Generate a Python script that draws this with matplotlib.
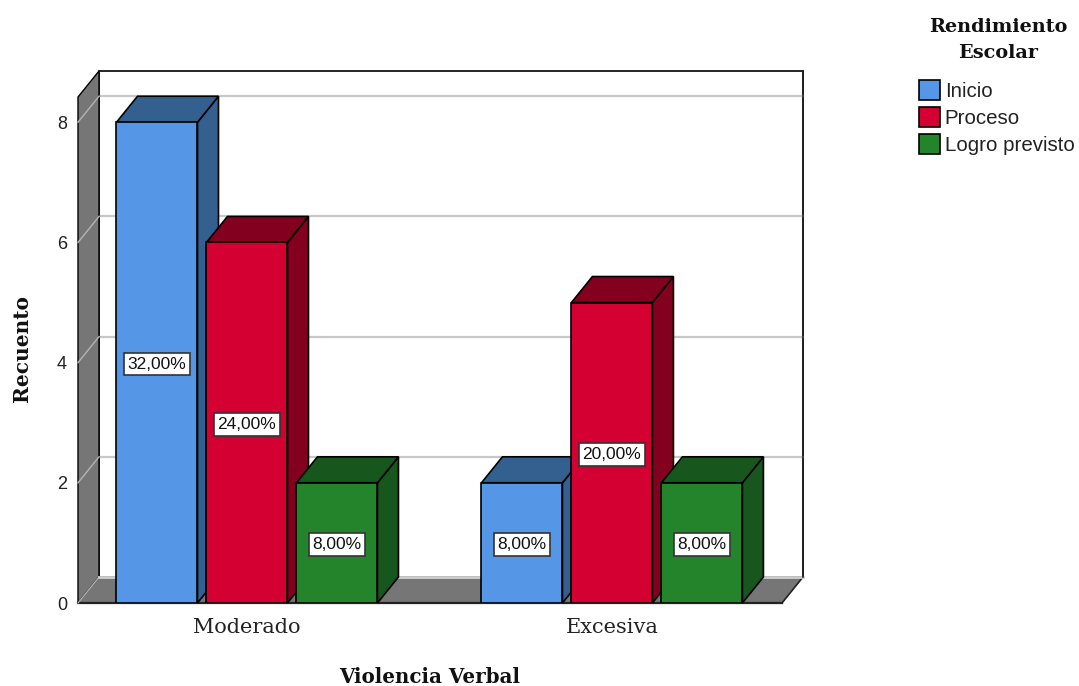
import matplotlib
matplotlib.use('Agg')
import matplotlib.pyplot as plt
from matplotlib.patches import Polygon

categories = ['Moderado', 'Excesiva']
series_names = ['Inicio', 'Proceso', 'Logro previsto']
inicio = [8, 2]
proceso = [6, 5]
logro = [2, 2]
inicio_pct = ['32,00%', '8,00%']
proceso_pct = ['24,00%', '20,00%']
logro_pct = ['8,00%', '8,00%']
y_ticks = [0, 2, 4, 6, 8]

front_colors = ['#5596E6', '#D50032', '#23842B']
dark_colors = ['#34608F', '#84001F', '#17561C']
wall_color = '#767676'

serif = 'DejaVu Serif'
sans = 'Liberation Sans'

W, H = 1079, 686
fig = plt.figure(figsize=(W / 100, H / 100), dpi=100)
ax = fig.add_axes([78 / W, 1 - 603 / H, (782 - 78) / W, (603 - 97) / H])

xmin, xmax = -0.463, 1.466
ymax = 8.42
ax.set_xlim(xmin, xmax)
ax.set_ylim(0, ymax)
for s in ax.spines.values():
    s.set_visible(False)

# depth of the fake 3d box, in data units
dx = 21 / 365
dy = 26 / 60.1
step = 90 / 365
width = 81 / 365


def poly(pts, fc, z, ec='black', lw=1.2):
    ax.add_patch(Polygon(pts, closed=True, facecolor=fc, edgecolor=ec, linewidth=lw,
                         zorder=z, clip_on=False, joinstyle='miter'))


# walls
poly([(xmin + dx, dy), (xmax + dx, dy), (xmax + dx, ymax + dy), (xmin + dx, ymax + dy)], 'white', 1)
poly([(xmin, 0), (xmin + dx, dy), (xmin + dx, ymax + dy), (xmin, ymax)], wall_color, 2, lw=1.0)
poly([(xmin, 0), (xmax, 0), (xmax + dx, dy), (xmin + dx, dy)], wall_color, 2, ec='none', lw=0)
ax.plot([xmin, xmax], [0, 0], color='#222222', lw=1.6, zorder=3, clip_on=False)
ax.plot([xmax, xmax + dx], [0, dy], color='#222222', lw=1.2, zorder=3, clip_on=False)
ax.plot([xmin, xmin + dx], [0, dy], color='#bbbbbb', lw=0.8, zorder=3, clip_on=False)
ax.plot([xmin + dx, xmax + dx], [dy, dy], color='#cfcfcf', lw=2, zorder=3, clip_on=False)
ax.plot([xmax + dx, xmax + dx], [dy, ymax + dy], color='#222222', lw=1.2, zorder=3, clip_on=False)

# grid lines on back and left wall
for t in y_ticks[1:]:
    ax.plot([xmin + dx, xmax + dx], [t + dy, t + dy], color='#c8c8c8', lw=1.6, zorder=1.5, clip_on=False)
    ax.plot([xmin, xmin + dx], [t, t + dy], color='#b4b4b4', lw=1.0, zorder=2.5, clip_on=False)

# bars, back to front and left to right
all_vals = [inicio, proceso, logro]
all_pct = [inicio_pct, proceso_pct, logro_pct]
z = 4
for g in range(len(categories)):
    for i in range(3):
        v = all_vals[i][g]
        x0 = g + (i - 1) * step - width / 2
        x1 = x0 + width
        poly([(x1, 0), (x1 + dx, dy), (x1 + dx, v + dy), (x1, v)], dark_colors[i], z)
        poly([(x0, v), (x1, v), (x1 + dx, v + dy), (x0 + dx, v + dy)], dark_colors[i], z)
        ax.bar(x0 + width / 2, v, width, color=front_colors[i], edgecolor='black',
               linewidth=1.2, zorder=z + 0.5)
        ax.text(x0 + width / 2, v / 2, all_pct[i][g], ha='center', va='center_baseline', fontsize=12.5,
                family=sans, color='#111111', zorder=50,
                bbox=dict(boxstyle='square,pad=0.22', fc='white', ec='#333333', lw=1.2))
        z += 1

ax.set_xticks(range(len(categories)))
ax.set_xticklabels(categories, family=serif, fontsize=15, color='#222222')
ax.set_yticks(y_ticks)
ax.set_yticklabels([str(t) for t in y_ticks], family=sans, fontsize=13, color='#222222')
ax.tick_params(axis='both', length=0)
ax.tick_params(axis='x', pad=11)
ax.tick_params(axis='y', pad=8)
fig.text(430 / W, 1 - 677 / H, 'Violencia Verbal', ha='center', va='center', family=serif,
         fontsize=14.3, fontweight='bold', color='#111111')
fig.text(22 / W, 1 - 349 / H, 'Recuento', rotation=90, ha='center', va='center', family=serif,
         fontsize=14.5, fontweight='bold', color='#111111')

# legend
fig.text(998 / W, 1 - 40 / H, 'Rendimiento\nEscolar', ha='center', va='center', multialignment='center',
         family=serif, fontsize=13.9, fontweight='bold', linespacing=1.55, color='#111111')
handles = [plt.Rectangle((0, 0), 1, 1, facecolor=c, edgecolor='black', linewidth=1.2) for c in front_colors]
leg = fig.legend(handles, series_names, loc='upper left', bbox_to_anchor=(917 / W, 1 - 78 / H),
                 frameon=False, handlelength=1.03, handleheight=1.1,
                 handletextpad=0.22, labelspacing=0.3, borderpad=0.1, borderaxespad=0,
                 prop={'family': sans, 'size': 14.8})
for t in leg.get_texts():
    t.set_color('#222222')

fig.savefig('out.png', dpi=100)
